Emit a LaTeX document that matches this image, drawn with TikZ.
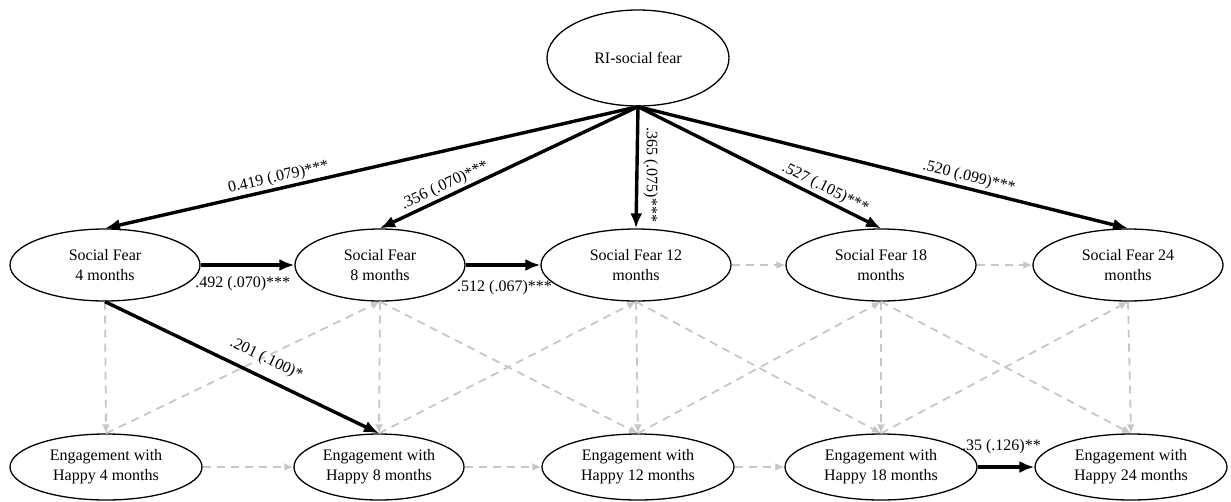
\documentclass[tikz,border=0pt]{standalone}
\usepackage{fontspec}
\setmainfont{Liberation Serif}
\usetikzlibrary{arrows.meta,shapes.geometric}
\newcommand{\pathfont}{\fontsize{16}{20}\selectfont}
\begin{document}
\begin{tikzpicture}[x=1pt,y=-1pt,
  latent/.style={ellipse, draw, line width=1.3pt, inner sep=0pt, align=center, font=\pathfont},
  sfrow/.style={latent, minimum width=190pt, minimum height=72pt},
  ehrow/.style={latent, minimum width=192pt, minimum height=66pt},
  sig/.style={line width=3.4pt, -{Latex[length=15pt,width=12pt]}},
  ns/.style={draw=black!22, line width=1.8pt, dash pattern=on 8pt off 6pt, -{Latex[length=9pt,width=8pt]}},
  coef/.style={font=\pathfont, inner sep=2pt}]
\useasboundingbox (0,0) rectangle (1231,501);
\fill[white] (0,0) rectangle (1231,501);

% random intercept
\node[latent, minimum width=182pt, minimum height=96pt] (RI) at (638,58) {RI-social fear};

% social fear at each age
\node[sfrow] (SF4) at (105,265) {Social Fear\\4 months};
\node[sfrow, minimum width=170pt] (SF8) at (380,265) {Social Fear\\8 months};
\node[sfrow] (SF12) at (636,265) {Social Fear 12\\months};
\node[sfrow] (SF18) at (881,265) {Social Fear 18\\months};
\node[sfrow] (SF24) at (1128,265) {Social Fear 24\\months};

% engagement with happy faces at each age
\node[ehrow] (EH4) at (106,467) {Engagement with\\Happy 4 months};
\node[ehrow, minimum width=170pt] (EH8) at (379,467) {Engagement with\\Happy 8 months};
\node[ehrow] (EH12) at (638,467) {Engagement with\\Happy 12 months};
\node[ehrow] (EH18) at (881,467) {Engagement with\\Happy 18 months};
\node[ehrow] (EH24) at (1131,467) {Engagement with\\Happy 24 months};

% non-significant paths
\draw[ns] (SF12.east) -- (SF18.west);
\draw[ns] (SF18.east) -- (SF24.west);
\draw[ns] (EH4.east) -- (EH8.west);
\draw[ns] (EH8.east) -- (EH12.west);
\draw[ns] (EH12.east) -- (EH18.west);
\foreach \a in {4,8,12,18,24} {
  \draw[ns] (SF\a.south) -- (EH\a.north);
}
\draw[ns] (SF8.south) -- (EH12.north);
\draw[ns] (SF12.south) -- (EH18.north);
\draw[ns] (SF18.south) -- (EH24.north);
\draw[ns] (EH4.north) -- (SF8.south);
\draw[ns] (EH8.north) -- (SF12.south);
\draw[ns] (EH12.north) -- (SF18.south);
\draw[ns] (EH18.north) -- (SF24.south);

% significant paths
\draw[sig] (RI.south) -- node[coef, sloped, above, pos=0.67] {0.419 (.079)***} (SF4.north);
\draw[sig] (RI.south) -- node[coef, sloped, above, pos=0.73] {.356 (.070)***} (SF8.north);
\draw[sig] (RI.south) -- node[coef, rotate=-90, anchor=south, pos=0.56, inner sep=5pt] {.365 (.075)***} (SF12.north);
\draw[sig] (RI.south) -- node[coef, sloped, above, pos=0.75] {.527 (.105)***} (SF18.north);
\draw[sig] (RI.south) -- node[coef, sloped, above, pos=0.67] {.520 (.099)***} (SF24.north);
\draw[sig] (SF4.east) -- node[coef, below=8pt, pos=0.45] {.492 (.070)***} (SF8.west);
\draw[sig] (SF8.east) -- node[coef, below=12pt, pos=0.52] {.512 (.067)***} (SF12.west);
\draw[sig] (SF4.south) -- node[coef, sloped, above=7pt, pos=0.56] {.201 (.100)*} (EH8.north);
\draw[sig] (EH18.east) -- node[coef, above=9pt, pos=0.42] {.35 (.126)**} (EH24.west);
\end{tikzpicture}
\end{document}
